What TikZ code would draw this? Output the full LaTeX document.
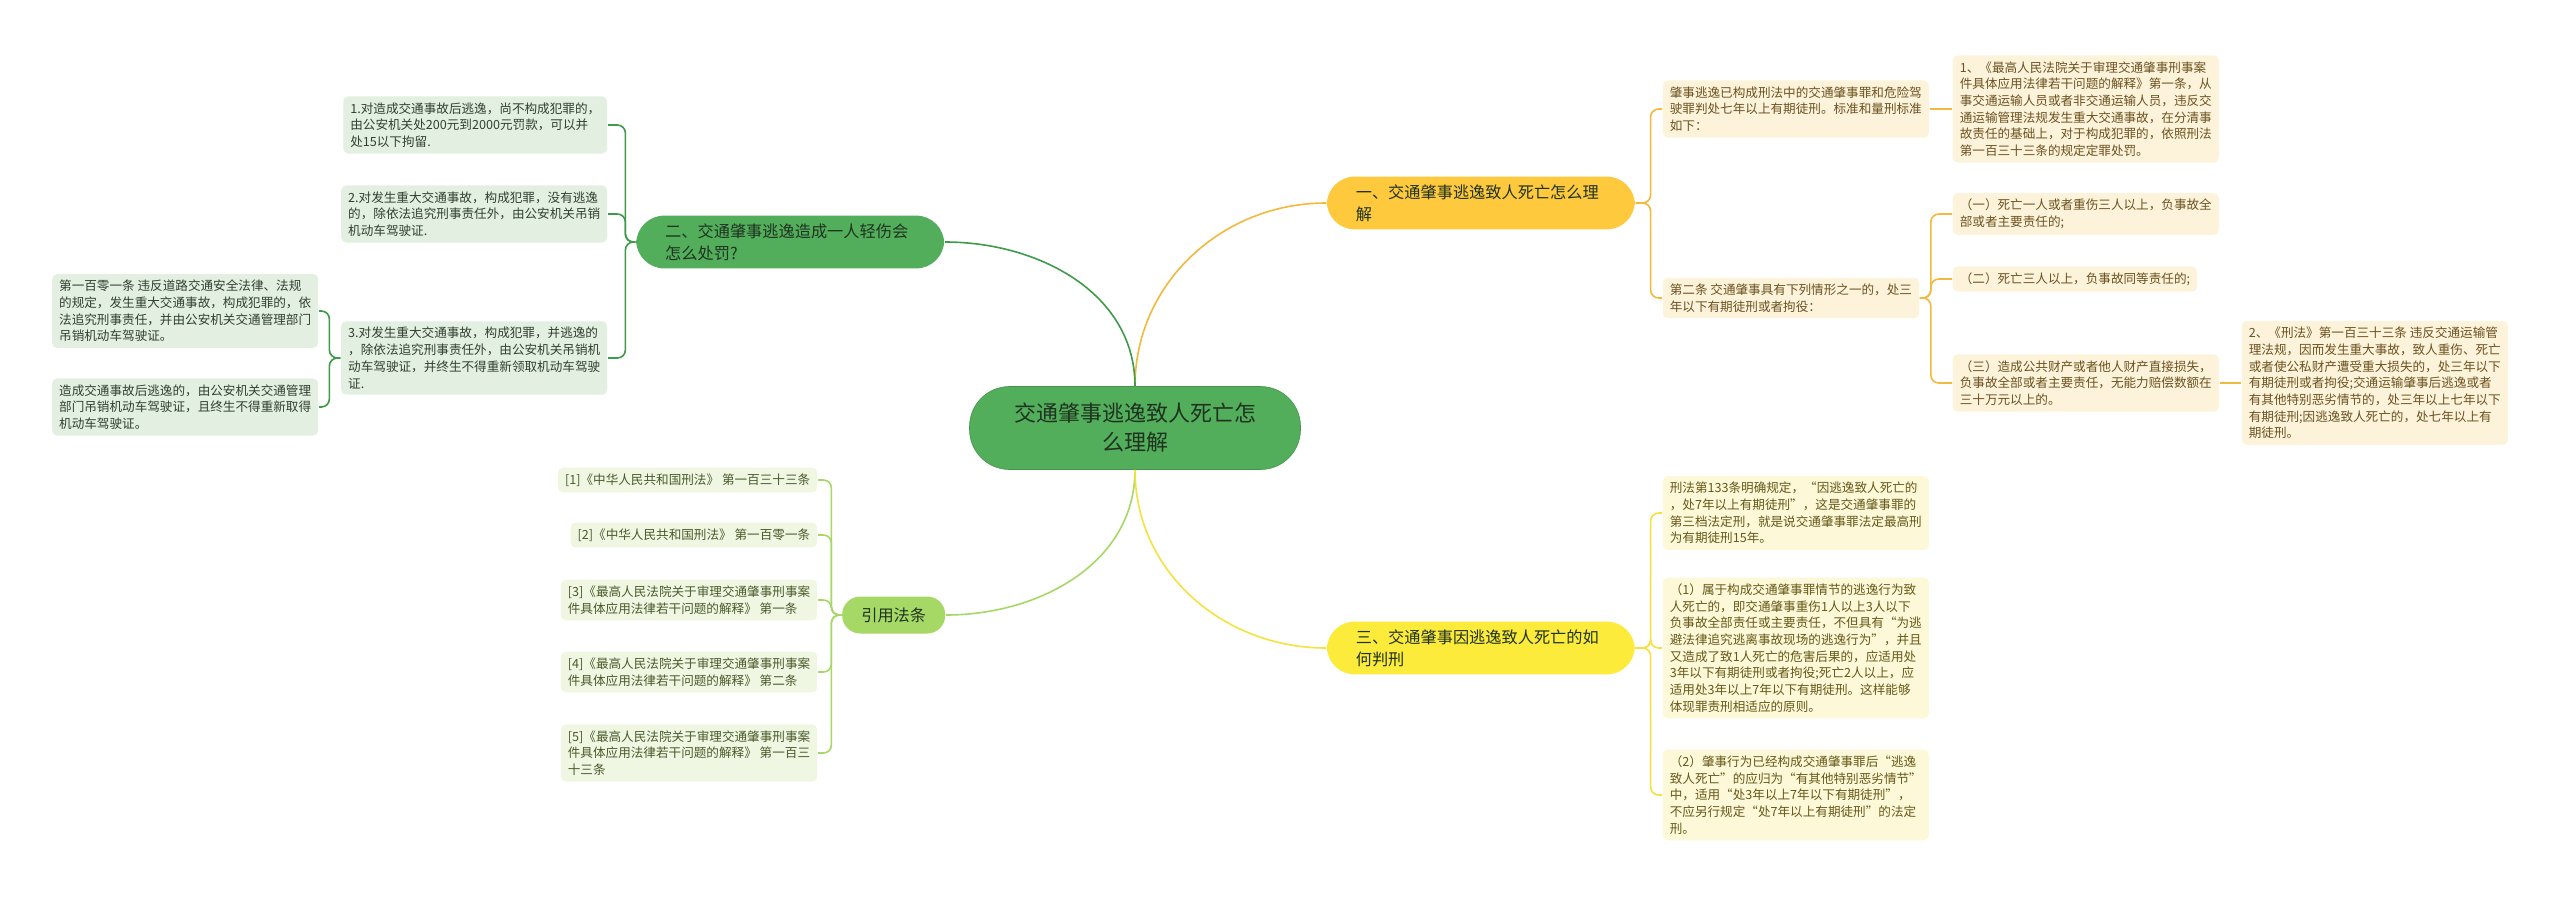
\documentclass[tikz,border=0pt]{standalone}
\usepackage{fontspec}
\setmainfont{Noto Sans CJK SC}
\definecolor{cgreen}{HTML}{53AE5C}
\definecolor{clime}{HTML}{A6D866}
\definecolor{camber}{HTML}{FFC93D}
\definecolor{cyellow}{HTML}{FDEB3B}
\definecolor{gline}{HTML}{3F9B4A}
\definecolor{lline}{HTML}{A6D866}
\definecolor{oline}{HTML}{F4B93C}
\definecolor{yline}{HTML}{F5E23E}
\definecolor{gleaf}{HTML}{E3F0E1}
\definecolor{lleaf}{HTML}{EFF7E3}
\definecolor{oleaf}{HTML}{FDF3DA}
\definecolor{yleaf}{HTML}{FDF8D8}
\definecolor{gtext}{HTML}{2F4030}
\definecolor{ltext}{HTML}{4A5A2A}
\definecolor{otext}{HTML}{6B5220}
\definecolor{ytext}{HTML}{665818}
\definecolor{ctxt}{HTML}{1F3320}
\tikzset{
  every picture/.style={line width=1.6pt},
  root/.style={fill=cgreen, draw=cgreen!85!black, line width=0.6pt, rounded corners=40pt, minimum width=331pt, minimum height=83pt, align=center, text=ctxt, font=\fontsize{22}{29}\selectfont},
  branch/.style={fill=#1, rounded corners=28pt, align=left, text width=250pt, inner xsep=29pt, inner ysep=8pt, text=ctxt, font=\fontsize{16.2}{21.7}\selectfont},
  tag/.style={fill=clime, rounded corners=18pt, minimum width=103pt, minimum height=37pt, text=ctxt, font=\fontsize{16.2}{21.7}\selectfont},
  leaf/.style={fill=#1leaf, text=#1text, rounded corners=5pt, align=left, inner xsep=7pt, inner ysep=6pt, font=\fontsize{12.6}{16.7}\selectfont},
  link/.style={draw=#1, line width=1.6pt, rounded corners=8pt},
}

\begin{document}
\begin{tikzpicture}[x=1pt, y=1pt]
  \fill[white] (0,0) rectangle (2560,-897);
  \useasboundingbox (0,0) rectangle (2560,-897);
  \node[root] (root) at (1135,-428) {交通肇事逃逸致人死亡怎\\么理解};
  % right side
  \node[branch=camber, anchor=west] (b1) at (1326,-203) {一、交通肇事逃逸致人死亡怎么理\\解};
  \node[branch=cyellow, anchor=west] (b3) at (1326,-648) {三、交通肇事因逃逸致人死亡的如\\何判刑};
  \node[leaf=o, anchor=west] (o1) at (1662,-109) {肇事逃逸已构成刑法中的交通肇事罪和危险驾\\驶罪判处七年以上有期徒刑。标准和量刑标准\\如下：};
  \node[leaf=o, anchor=west] (o2) at (1662,-298) {第二条 交通肇事具有下列情形之一的，处三\\年以下有期徒刑或者拘役：};
  \node[leaf=o, anchor=west] (o11) at (1952,-109) {1、《最高人民法院关于审理交通肇事刑事案\\件具体应用法律若干问题的解释》第一条，从\\事交通运输人员或者非交通运输人员，违反交\\通运输管理法规发生重大交通事故，在分清事\\故责任的基础上，对于构成犯罪的，依照刑法\\第一百三十三条的规定定罪处罚。};
  \node[leaf=o, anchor=west] (o21) at (1952,-214) {（一）死亡一人或者重伤三人以上，负事故全\\部或者主要责任的;};
  \node[leaf=o, anchor=west] (o22) at (1952,-279) {（二）死亡三人以上，负事故同等责任的;};
  \node[leaf=o, anchor=west] (o23) at (1952,-383) {（三）造成公共财产或者他人财产直接损失，\\负事故全部或者主要责任，无能力赔偿数额在\\三十万元以上的。};
  \node[leaf=o, anchor=west] (o231) at (2241,-383) {2、《刑法》第一百三十三条 违反交通运输管\\理法规，因而发生重大事故，致人重伤、死亡\\或者使公私财产遭受重大损失的，处三年以下\\有期徒刑或者拘役;交通运输肇事后逃逸或者\\有其他特别恶劣情节的，处三年以上七年以下\\有期徒刑;因逃逸致人死亡的，处七年以上有\\期徒刑。};
  \node[leaf=y, anchor=west] (y1) at (1662,-513) {刑法第133条明确规定，“因逃逸致人死亡的\\，处7年以上有期徒刑”，这是交通肇事罪的\\第三档法定刑，就是说交通肇事罪法定最高刑\\为有期徒刑15年。};
  \node[leaf=y, anchor=west] (y2) at (1662,-648) {（1）属于构成交通肇事罪情节的逃逸行为致\\人死亡的，即交通肇事重伤1人以上3人以下\\负事故全部责任或主要责任，不但具有“为逃\\避法律追究逃离事故现场的逃逸行为”，并且\\又造成了致1人死亡的危害后果的，应适用处\\3年以下有期徒刑或者拘役;死亡2人以上，应\\适用处3年以上7年以下有期徒刑。这样能够\\体现罪责刑相适应的原则。};
  \node[leaf=y, anchor=west] (y3) at (1662,-795) {（2）肇事行为已经构成交通肇事罪后“逃逸\\致人死亡”的应归为“有其他特别恶劣情节”\\中，适用“处3年以上7年以下有期徒刑”，\\不应另行规定“处7年以上有期徒刑”的法定\\刑。};
  % left side
  \node[branch=cgreen, anchor=east] (b2) at (945,-242) {二、交通肇事逃逸造成一人轻伤会\\怎么处罚?};
  \node[tag, anchor=east] (b4) at (946,-615) {引用法条};
  \node[leaf=g, anchor=east] (g1) at (608,-125) {1.对造成交通事故后逃逸，尚不构成犯罪的，\\由公安机关处200元到2000元罚款，可以并\\处15以下拘留.};
  \node[leaf=g, anchor=east] (g2) at (608,-214) {2.对发生重大交通事故，构成犯罪，没有逃逸\\的，除依法追究刑事责任外，由公安机关吊销\\机动车驾驶证.};
  \node[leaf=g, anchor=east] (g3) at (608,-358) {3.对发生重大交通事故，构成犯罪，并逃逸的\\，除依法追究刑事责任外，由公安机关吊销机\\动车驾驶证，并终生不得重新领取机动车驾驶\\证.};
  \node[leaf=g, anchor=east] (g31) at (319,-311) {第一百零一条 违反道路交通安全法律、法规\\的规定，发生重大交通事故，构成犯罪的，依\\法追究刑事责任，并由公安机关交通管理部门\\吊销机动车驾驶证。};
  \node[leaf=g, anchor=east] (g32) at (319,-407) {造成交通事故后逃逸的，由公安机关交通管理\\部门吊销机动车驾驶证，且终生不得重新取得\\机动车驾驶证。};
  \node[leaf=l, anchor=east] (l1) at (818,-480) {[1]《中华人民共和国刑法》 第一百三十三条};
  \node[leaf=l, anchor=east] (l2) at (818,-535) {[2]《中华人民共和国刑法》 第一百零一条};
  \node[leaf=l, anchor=east] (l3) at (818,-600) {[3]《最高人民法院关于审理交通肇事刑事案\\件具体应用法律若干问题的解释》 第一条};
  \node[leaf=l, anchor=east] (l4) at (818,-672) {[4]《最高人民法院关于审理交通肇事刑事案\\件具体应用法律若干问题的解释》 第二条};
  \node[leaf=l, anchor=east] (l5) at (818,-753) {[5]《最高人民法院关于审理交通肇事刑事案\\件具体应用法律若干问题的解释》 第一百三\\十三条};
  % connectors
  \draw[link=oline] (root.north) to[out=90, in=180] (b1.west);
  \draw[link=gline] (root.north) to[out=90, in=0] (b2.east);
  \draw[link=lline] (root.south) to[out=-90, in=0] (b4.east);
  \draw[link=yline] (root.south) to[out=-90, in=180] (b3.west);
  \foreach \c in {o1,o2} \draw[link=oline] (b1.east) -- ++(15,0) |- (\c.west);
  \draw[link=oline] (o1.east) -- (o11.west);
  \foreach \c in {o21,o22,o23} \draw[link=oline] (o2.east) -- ++(11,0) |- (\c.west);
  \draw[link=oline] (o23.east) -- (o231.west);
  \foreach \c in {y1,y2,y3} \draw[link=yline] (b3.east) -- ++(15,0) |- (\c.west);
  \foreach \c in {g1,g2,g3} \draw[link=gline] (b2.west) -- ++(-10,0) |- (\c.east);
  \foreach \c in {g31,g32} \draw[link=gline] (g3.west) -- ++(-11,0) |- (\c.east);
  \foreach \c in {l1,l2,l3,l4,l5} \draw[link=lline] (b4.west) -- ++(-10,0) |- (\c.east);
\end{tikzpicture}
\end{document}
